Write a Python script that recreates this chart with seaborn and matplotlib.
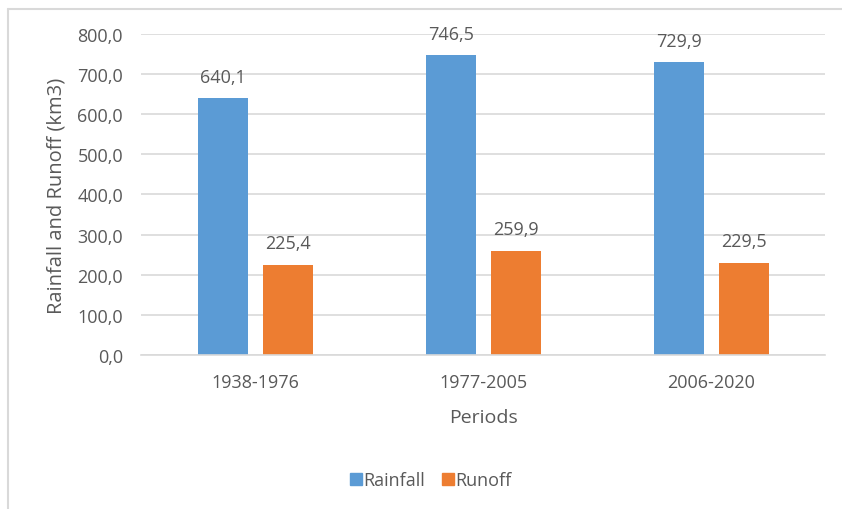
import numpy as np
import pandas as pd
import matplotlib
matplotlib.use("Agg")
import matplotlib.pyplot as plt
import seaborn as sns
from matplotlib.lines import Line2D

periods = ["1938-1976", "1977-2005", "2006-2020"]
rainfall = [640.1, 746.5, 729.9]
runoff = [225.4, 259.9, 229.5]
series_names = ["Rainfall", "Runoff"]
series_colors = ["#5B9BD5", "#ED7D31"]
y_ticks = [0, 100, 200, 300, 400, 500, 600, 700, 800]

df = pd.DataFrame({
    "Periods": periods * 2,
    "Value": rainfall + runoff,
    "Series": [series_names[0]] * 3 + [series_names[1]] * 3,
})

sns.set_style("white")
plt.rcParams["font.family"] = ["Open Sans", "DejaVu Sans"]
text_color = "#595959"
grid_color = "#D9D9D9"

fig = plt.figure(figsize=(8.42, 5.10), dpi=100)
ax = fig.add_axes([0.1675, 0.302, 0.8125, 0.6294])

sns.barplot(data=df, x="Periods", y="Value", hue="Series", order=periods,
            hue_order=series_names, palette=series_colors, width=0.57, gap=0.23,
            saturation=1, linewidth=0, ax=ax, legend=False, errorbar=None)

# data labels
for container in ax.containers:
    labels = [f"{b.get_height():.1f}".replace(".", ",") for b in container]
    ax.bar_label(container, labels=labels, padding=9, fontsize=13, color=text_color)

ax.set_ylim(0, 800)
ax.set_xlim(-0.5, 2.5)
ax.set_yticks(y_ticks)
ax.set_yticklabels([f"{v:.1f}".replace(".", ",") for v in y_ticks])
ax.yaxis.grid(True, color=grid_color, linewidth=1.2)
ax.set_axisbelow(True)
for side in ["top", "right", "left"]:
    ax.spines[side].set_visible(False)
ax.spines["bottom"].set_color(grid_color)
ax.spines["bottom"].set_linewidth(1.2)

ax.tick_params(axis="y", length=0, pad=13, labelsize=13, labelcolor=text_color)
ax.tick_params(axis="x", length=0, pad=13, labelsize=13, labelcolor=text_color)
ax.set_xticks([-0.5, 0.5, 1.5, 2.5], minor=True)
ax.tick_params(axis="x", which="minor", length=5, color=grid_color, width=1.2)

ax.set_xlabel("Periods", fontsize=14, color=text_color, labelpad=12)
ax.set_ylabel("Rainfall and Runoff (km3)", fontsize=14.5, color=text_color, labelpad=8)

# legend at bottom
handles = [Line2D([0], [0], marker="s", linestyle="", markersize=9,
                  markerfacecolor=c, markeredgecolor=c) for c in series_colors]
fig.legend(handles, series_names, loc="center", bbox_to_anchor=(0.511, 0.057),
           ncol=2, frameon=False, fontsize=13, labelcolor=text_color,
           handletextpad=0.0, columnspacing=0.9, handlelength=0.8)

# chart frame
fig.add_artist(Line2D([8 / 842, 8 / 842], [0, 1 - 10 / 510], transform=fig.transFigure,
                      color=grid_color, linewidth=1.5))
fig.add_artist(Line2D([8 / 842, 1], [1 - 10 / 510, 1 - 10 / 510], transform=fig.transFigure,
                      color=grid_color, linewidth=1.5))

fig.savefig("out.png", dpi=100)
